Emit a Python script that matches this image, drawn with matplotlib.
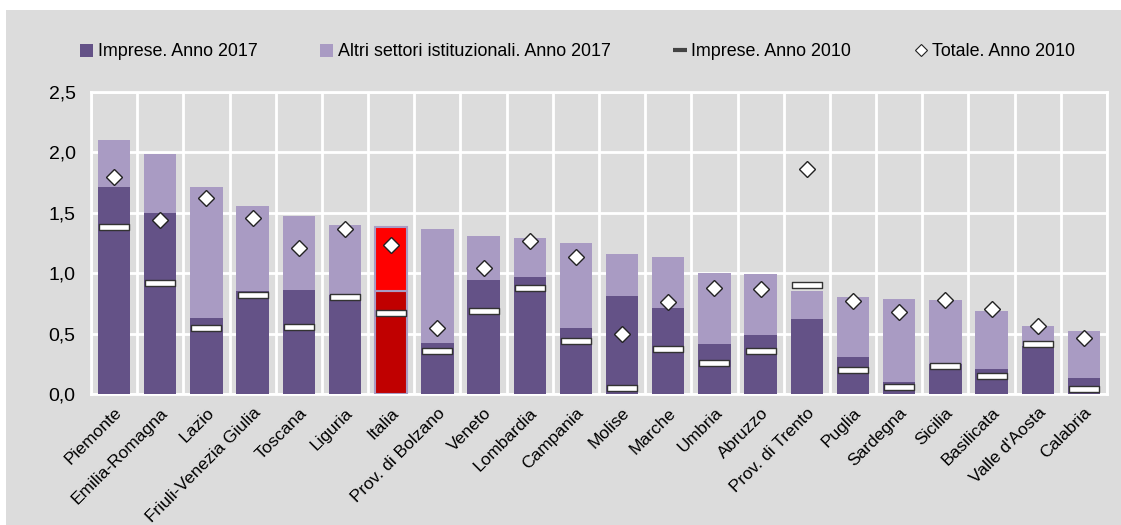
import matplotlib
matplotlib.use("Agg")
import matplotlib.pyplot as plt
from matplotlib.patches import Patch, Rectangle
from matplotlib.lines import Line2D
from matplotlib.path import Path
import numpy as np

categories = ["Piemonte", "Emilia-Romagna", "Lazio", "Friuli-Venezia Giulia", "Toscana",
              "Liguria", "Italia", "Prov. di Bolzano", "Veneto", "Lombardia", "Campania",
              "Molise", "Marche", "Umbria", "Abruzzo", "Prov. di Trento", "Puglia",
              "Sardegna", "Sicilia", "Basilicata", "Valle d'Aosta", "Calabria"]
imprese_2017 = [1.71, 1.50, 0.63, 0.85, 0.86, 0.82, 0.85, 0.42, 0.94, 0.97, 0.55,
                0.81, 0.71, 0.41, 0.49, 0.62, 0.31, 0.10, 0.25, 0.21, 0.40, 0.13]
altri_2017 = [0.39, 0.49, 1.08, 0.71, 0.61, 0.58, 0.53, 0.95, 0.365, 0.32, 0.70,
              0.35, 0.42, 0.59, 0.50, 0.23, 0.495, 0.69, 0.53, 0.48, 0.165, 0.395]
imprese_2010 = [1.38, 0.92, 0.55, 0.82, 0.555, 0.80, 0.67, 0.36, 0.685, 0.875, 0.44,
                0.05, 0.37, 0.255, 0.36, 0.90, 0.20, 0.06, 0.23, 0.15, 0.41, 0.04]
totale_2010 = [1.80, 1.44, 1.62, 1.46, 1.21, 1.37, 1.23, 0.55, 1.04, 1.27, 1.13,
               0.50, 0.76, 0.875, 0.87, 1.86, 0.77, 0.675, 0.78, 0.70, 0.565, 0.46]
yticks = [0.0, 0.5, 1.0, 1.5, 2.0, 2.5]
ytick_labels = ["0,0", "0,5", "1,0", "1,5", "2,0", "2,5"]
legend_labels = ["Imprese. Anno 2017", "Altri settori istituzionali. Anno 2017",
                 "Imprese. Anno 2010", "Totale. Anno 2010"]
highlight = "Italia"

DARK = "#645287"
LIGHT = "#A99BC3"
RED_DARK = "#C00000"
RED_LIGHT = "#FF0000"
BG = "#DCDCDC"

plt.rcParams['font.family'] = ['Liberation Sans', 'DejaVu Sans']

fig = plt.figure(figsize=(11.21, 5.25), dpi=100, facecolor="white")
fig.patches.append(Rectangle((6 / 1121, 0), 1 - 6 / 1121, 1 - 10 / 525,
                             transform=fig.transFigure, facecolor=BG,
                             edgecolor="none", zorder=-10))
ax = fig.add_axes([91 / 1121, 1 - 394 / 525, (1107 - 91) / 1121, (394 - 92) / 525])
ax.set_facecolor(BG)

x = np.arange(len(categories))
c_dark = [RED_DARK if c == highlight else DARK for c in categories]
c_light = [RED_LIGHT if c == highlight else LIGHT for c in categories]
edges = [LIGHT if c == highlight else "none" for c in categories]
lws = [1.5 if c == highlight else 0 for c in categories]
w = 0.7
ax.bar(x, imprese_2017, width=w, color=c_dark, edgecolor=edges, linewidth=lws, zorder=3)
ax.bar(x, altri_2017, width=w, bottom=imprese_2017, color=c_light, edgecolor=edges,
       linewidth=lws, zorder=3)

rect_marker = Path([(-1, -0.19), (1, -0.19), (1, 0.19), (-1, 0.19), (-1, -0.19)],
                   [Path.MOVETO, Path.LINETO, Path.LINETO, Path.LINETO, Path.CLOSEPOLY])
ax.plot(x, imprese_2010, linestyle="none", marker=rect_marker, markersize=21,
        markerfacecolor="white", markeredgecolor="#333333", markeredgewidth=1.0, zorder=4)
ax.plot(x, totale_2010, linestyle="none", marker="D", markersize=8.5,
        markerfacecolor="white", markeredgecolor="#222222", markeredgewidth=1.0, zorder=5)

ax.set_xlim(-0.5, len(categories) - 0.5)
ax.set_ylim(0, 2.5)
ax.set_yticks(yticks)
ax.set_yticklabels(ytick_labels, fontsize=14)
ax.set_xticks(x)
ax.set_xticklabels(categories, fontsize=12.5, rotation=45, ha="right", va="top",
                   rotation_mode="anchor")
ax.set_xticks(np.arange(-0.5, len(categories), 1), minor=True)
ax.tick_params(axis="both", which="both", length=0)
ax.tick_params(axis="y", pad=11)
ax.tick_params(axis="x", which="major", pad=8)
ax.grid(True, axis="y", which="major", color="white", linewidth=2, zorder=0)
ax.grid(True, axis="x", which="minor", color="white", linewidth=2, zorder=0)
ax.grid(False, axis="x", which="major")
ax.set_axisbelow(True)
for s in ax.spines.values():
    s.set_color("white")
    s.set_linewidth(2)

handles = [Patch(facecolor=DARK, edgecolor="none"),
           Patch(facecolor=LIGHT, edgecolor="none"),
           Line2D([], [], linestyle="none", marker="_", markersize=10,
                  markeredgewidth=3, color="#444444"),
           Line2D([], [], linestyle="none", marker="D", markersize=6,
                  markerfacecolor="white", markeredgecolor="#222222", markeredgewidth=0.8)]
fig.legend(handles, legend_labels, loc="center", bbox_to_anchor=(0.515, 1 - 52 / 525),
           ncol=4, frameon=False, fontsize=12.9, handlelength=0.75, handleheight=0.75,
           handletextpad=0.25, columnspacing=3.5)

fig.savefig("out.png", dpi=100, facecolor=fig.get_facecolor())
